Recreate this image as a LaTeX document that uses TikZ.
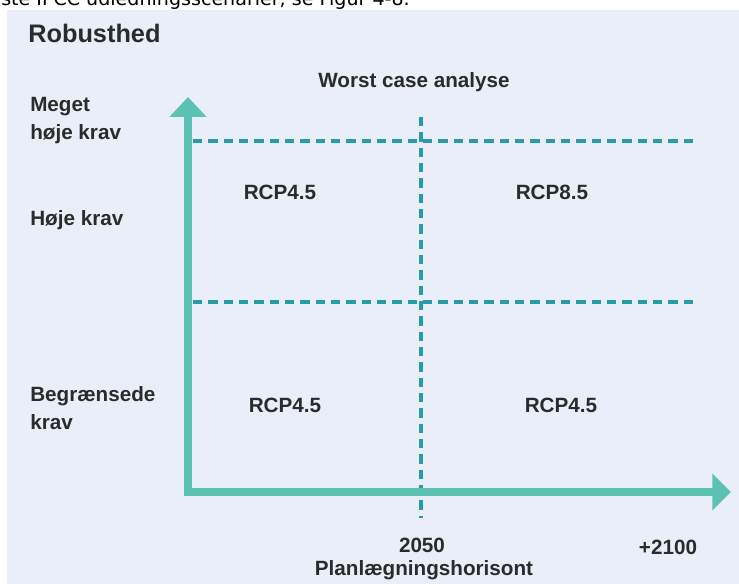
\documentclass[tikz,border=0pt]{standalone}
\usepackage{fontspec}
\setmainfont{Liberation Sans}
\newfontfamily\capfont{DejaVu Sans}
\usetikzlibrary{arrows.meta}
\definecolor{panelbg}{HTML}{E9EEF8}
\definecolor{axisteal}{HTML}{5BC2B3}
\definecolor{dashteal}{HTML}{2A9AA6}
\definecolor{txtgray}{HTML}{2B2B2B}

\begin{document}
\begin{tikzpicture}[x=0.75pt,y=-0.75pt,
  every node/.style={font=\bfseries\fontsize{15.5}{21}\selectfont,text=txtgray,align=left,inner sep=0pt},
  axis/.style={draw=axisteal,line width=5.5pt,line cap=rect},
  guide/.style={draw=dashteal,line width=3pt,dash pattern=on 7pt off 4.5pt}]
  \useasboundingbox (0,0) rectangle (739,584);
  \clip (0,0) rectangle (739,584);

  % cut-off caption line above the figure
  \draw (1,6) node[anchor=base west,font=\capfont\fontsize{14.3}{16}\selectfont,text=black](cap) {ste IPCC udledningsscenarier, se Figur 4-8.};
  \fill[panelbg] (7,10) rectangle (739,584);

  % axes
  \coordinate (O)    at (188,492);
  \coordinate (ytip) at (188,97);
  \coordinate (xtip) at (731,492);

  % dashed guides
  \coordinate (hiL) at (193,141);
  \coordinate (hiR) at (697,141);
  \coordinate (loL) at (193,302);
  \coordinate (loR) at (697,302);
  \coordinate (vT)  at (421,117);
  \coordinate (vB)  at (421,518);

  \path[guide] (hiL) -- (hiR);
  \path[guide] (loL) -- (loR);
  \path[guide] (vT) -- (vB);

  \path[axis,-{Triangle[length=15pt,width=27pt]}] (O) -- (ytip);
  \path[axis,-{Triangle[length=14pt,width=27pt]}] (O) -- (xtip);

  \draw ( 28, 33) node[anchor=west,font=\bfseries\fontsize{19}{21}\selectfont](title) {Robusthed};
  \draw (414, 82) node[](worst) {Worst case analyse};

  \draw ( 30,121) node[anchor=west](vhigh) {Meget\\høje krav};
  \draw ( 30,220) node[anchor=west](high)  {Høje krav};
  \draw ( 30,408) node[anchor=west](low)   {Begrænsede\\krav};

  \draw (280,192) node[](rcpNW) {RCP4.5};
  \draw (552,192) node[](rcpNE) {RCP8.5};
  \draw (285,405) node[](rcpSW) {RCP4.5};
  \draw (561,405) node[](rcpSE) {RCP4.5};

  \draw (422,545) node[](mid)  {2050};
  \draw (424,570) node[](plan) {Planlægningshorisont};
  \draw (668,547) node[](far)  {+2100};

\end{tikzpicture}
\end{document}
